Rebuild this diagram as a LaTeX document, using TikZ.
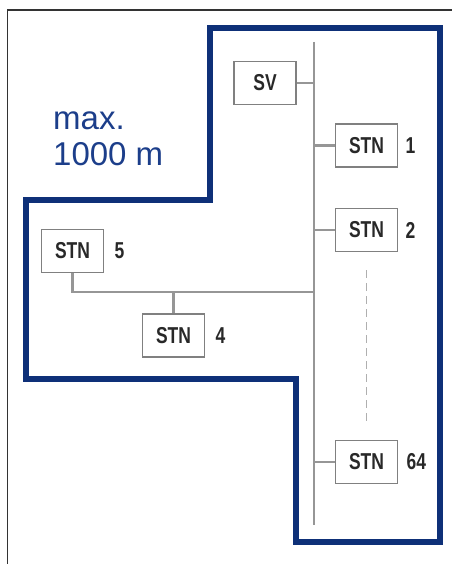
\documentclass[tikz,border=0pt]{standalone}
\usepackage{fontspec}
\setmainfont{Liberation Sans}
\newfontfamily\stnfont[FakeStretch=0.76]{Liberation Sans Bold}
\usetikzlibrary{positioning,calc}
\definecolor{bsBlue} {RGB}{ 14, 48,120}
\definecolor{bsText} {RGB}{ 28, 62,138}
\definecolor{bsBox}  {RGB}{128,128,128}
\definecolor{bsBus}  {RGB}{150,150,150}
\definecolor{bsDots} {RGB}{175,175,175}
\definecolor{bsInk}  {RGB}{ 40, 40, 40}

\begin{document}
\begin{tikzpicture}[
  x=1pt,y=1pt,
  stn/.style={draw=bsBox,line width=1.8pt,fill=white,inner sep=0pt,
              minimum width=62pt,minimum height=43pt,
              font=\stnfont\fontsize{23}{23}\selectfont,text=bsInk},
  addr/.style={anchor=west,inner sep=0pt,
               font=\stnfont\fontsize{23}{23}\selectfont,text=bsInk},
  bus/.style={draw=bsBus,line width=2.2pt},
  zone/.style={draw=bsBlue,line width=6pt,line join=miter}
]
\useasboundingbox (0,0) rectangle (452,-564);

% outer frame
\draw[line width=1.8pt,draw=black!80] (7.5,-564) -- (7.5,-10) -- (452,-10);

% range outline
\draw[zone] (210,-28.5) -- (440,-28.5) -- (440,-542) -- (296,-542)
   -- (296,-379) -- (26,-379) -- (26,-199.5) -- (210,-199.5) -- cycle;
\node[anchor=north west,align=left,inner sep=0pt,text=bsText,
      font=\fontsize{33}{36}\selectfont] (range) at (53,-112)
   {max.\\1000 m};

% main bus
\coordinate (bustop) at (314,-42);
\coordinate (busbot) at (314,-525);
\draw[bus] (bustop) -- (busbot);

% master and stations
\node[stn] (sv) at (265,-83) {SV};
\node[stn] (stn1) at (366.5,-145.5) {STN};
\node[stn] (stn2) at (366.5,-230) {STN};
\node[stn] (stn64) at (366.5,-462) {STN};
\node[stn] (stn5) at (72.5,-251) {STN};
\node[stn] (stn4) at (173.5,-335.5) {STN};

\node[addr,right=7pt of stn1] (a1) {1};
\node[addr,right=7pt of stn2] (a2) {2};
\node[addr,right=8pt of stn64] (a64) {64};
\node[addr,right=10pt of stn5] (a5) {5};
\node[addr,right=10pt of stn4] (a4) {4};

% drops to the bus
\draw[bus] (sv.east) -- (sv.east -| bustop);
\draw[bus] (stn1.west) -- (stn1.west -| bustop);
\draw[bus] (stn2.west) -- (stn2.west -| bustop);
\draw[bus] (stn64.west) -- (stn64.west -| bustop);

% branch line
\coordinate (tee) at (0,-292);
\draw[bus] (stn5.south) |- (tee -| bustop);
\draw[bus] (stn4.north) -- (stn4.north |- tee);

% further stations
\draw[draw=bsDots,line width=1.6pt,dash pattern=on 8pt off 5pt]
   ($(stn2.south)+(0,-18)$) -- ($(stn64.north)+(0,19)$);
\end{tikzpicture}
\end{document}
